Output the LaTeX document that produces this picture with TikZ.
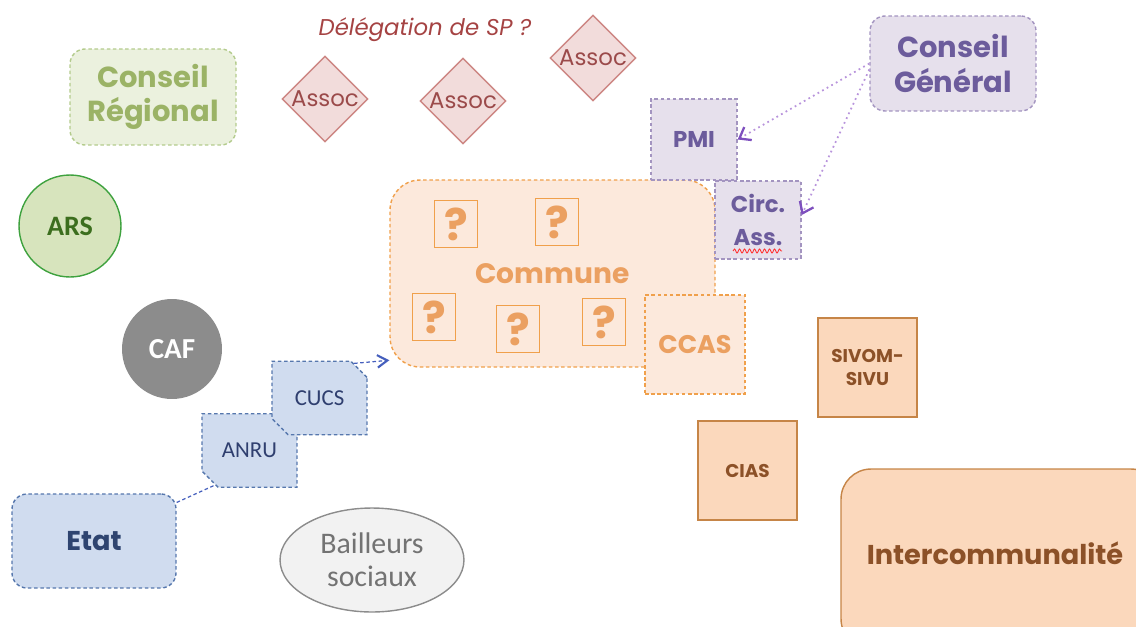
\documentclass[tikz,border=0pt]{standalone}
\usepackage{fontspec}
\setmainfont{Poppins}
\newfontfamily\calfont{Carlito}
\usepackage{tikz}
\usetikzlibrary{arrows.meta, positioning, shapes.geometric, shapes.misc, decorations.pathmorphing}

\definecolor{regfill}{HTML}{EBF1DE}
\definecolor{regdraw}{HTML}{B3CB8C}
\definecolor{regtext}{HTML}{9BB366}
\definecolor{assocfill}{HTML}{F2DCDB}
\definecolor{assocdraw}{HTML}{CD8683}
\definecolor{assoctext}{HTML}{9B4A4A}
\definecolor{cgfill}{HTML}{E6E0EC}
\definecolor{cgdraw}{HTML}{A394C0}
\definecolor{cgtext}{HTML}{6C5C9C}
\definecolor{cgline}{HTML}{B894DC}
\definecolor{cgtip}{HTML}{7E4FBE}
\definecolor{arsfill}{HTML}{D7E4BD}
\definecolor{arsdraw}{HTML}{3FA23F}
\definecolor{arstext}{HTML}{3C6E1E}
\definecolor{caffill}{HTML}{8C8C8C}
\definecolor{comfill}{HTML}{FCE9DC}
\definecolor{comdraw}{HTML}{F0A04B}
\definecolor{comtext}{HTML}{EBA061}
\definecolor{sivfill}{HTML}{FBD8BC}
\definecolor{sivdraw}{HTML}{C68547}
\definecolor{sivtext}{HTML}{8C5128}
\definecolor{etatfill}{HTML}{D0DCEF}
\definecolor{etatdraw}{HTML}{5677AD}
\definecolor{etattext}{HTML}{2E4470}
\definecolor{ctext}{HTML}{2F3F6F}
\definecolor{bailfill}{HTML}{F2F2F2}
\definecolor{baildraw}{HTML}{8C8C8C}
\definecolor{bailtext}{HTML}{737373}

\begin{document}
\begin{tikzpicture}[x=0.02cm, y=-0.02cm, line width=0.8pt,
			dashline/.style={dash pattern=on 2pt off 1.5pt},
			region/.style={draw=regdraw, fill=regfill, dashline, rounded corners=0.3cm, text=regtext, align=center, font=\fontsize{16.5}{19.5}\selectfont\bfseries},
			assoc/.style={draw=assocdraw, fill=assocfill, diamond, aspect=1, inner sep=0pt, minimum size=1.72cm, text=assoctext, font=\fontsize{13}{15}\selectfont},
			cg/.style={draw=cgdraw, fill=cgfill, dashline, text=cgtext, align=center, font=\fontsize{13}{18.5}\selectfont\bfseries},
			commbox/.style={draw=comdraw, fill=comfill, dashline, text=comtext, font=\fontsize{16}{18}\selectfont\bfseries},
			quest/.style={draw=comdraw, minimum width=0.86cm, minimum height=0.94cm, inner sep=0pt, text=comtext, font=\fontsize{25}{27}\selectfont\bfseries},
			inter/.style={draw=sivdraw, fill=sivfill, text=sivtext, align=center, font=\fontsize{10.5}{13.5}\selectfont\bfseries},
			etat/.style={draw=etatdraw, fill=etatfill, dashline, text=ctext, font=\calfont\fontsize{13}{15}\selectfont},
			snipbox/.style={etat, chamfered rectangle, chamfered rectangle corners={north east, south west}, chamfered rectangle xsep=0.16cm, chamfered rectangle ysep=0.16cm, minimum width=1.9cm, minimum height=1.47cm}]
			
			\clip (0,0) rectangle (1136,626);
			
			% Drawing the regional and local bodies
			\node[region, minimum width=3.32cm, minimum height=1.92cm] (reg) at (153,97) {Conseil\\R\'egional};
			\node[font=\fontsize{13}{15}\selectfont\itshape, text=assoctext!90!red] (deleg) at (425,30) {D\'el\'egation de SP ?};
			\node[assoc] (assoc1) at (325,99) {Assoc};
			\node[assoc] (assoc2) at (463,101) {Assoc};
			\node[assoc] (assoc3) at (593,58) {Assoc};
			\node[cg, rounded corners=0.3cm, minimum width=3.32cm, minimum height=1.9cm, font=\fontsize{16.5}{20}\selectfont\bfseries] (cg) at (953,63.5) {Conseil\\G\'en\'eral};
			
			% Drawing the health and family bodies
			\node[circle, draw=arsdraw, fill=arsfill, minimum size=2.04cm, text=arstext, font=\calfont\fontsize{16}{18}\selectfont\bfseries] (ars) at (70,226) {ARS};
			\node[circle, fill=caffill, minimum size=2cm, text=white, font=\calfont\fontsize{16.5}{18}\selectfont\bfseries] (caf) at (172,349) {CAF};
			
			% Drawing the commune
			\node[commbox, rounded corners=0.6cm, minimum width=6.5cm, minimum height=3.74cm] (commune) at (552.5,273.5) {Commune};
			\node[quest] (q1) at (456,224) {?};
			\node[quest] (q2) at (557,222) {?};
			\node[quest] (q3) at (434,317) {?};
			\node[quest] (q4) at (518,329) {?};
			\node[quest] (q5) at (604,322) {?};
			\node[cg, minimum width=1.72cm, minimum height=1.62cm] (pmi) at (694,139.5) {PMI};
			\node[cg, minimum width=1.72cm, minimum height=1.56cm] (circ) at (758,220) {Circ.\\Ass.};
			\draw[red!80, line width=0.5pt, decorate, decoration={snake, amplitude=0.4mm, segment length=1mm}] (733,251) -- (782,251);
			\node[commbox, minimum width=2cm, minimum height=1.98cm, font=\fontsize{14.5}{16}\selectfont\bfseries] (ccas) at (695,344.5) {CCAS};
			
			% Drawing the intercommunal bodies
			\node[inter, minimum size=1.98cm] (sivom) at (867.5,367.5) {SIVOM-\\SIVU};
			\node[inter, minimum size=1.98cm] (cias) at (747.5,470.5) {CIAS};
			\node[inter, rounded corners=0.6cm, minimum width=6.4cm, minimum height=3.6cm, font=\fontsize{15.5}{17}\selectfont\bfseries] (interco) at (1001,559) {};
			\node[text=sivtext, font=\fontsize{15.5}{17}\selectfont\bfseries] (intertext) at (995,553) {Intercommunalit\'e};
			
			% Drawing the state bodies
			\node[etat, rounded corners=0.3cm, minimum width=3.28cm, minimum height=1.88cm, text=etattext, font=\fontsize{15.5}{17}\selectfont\bfseries] (etat) at (94,541) {Etat};
			\node[snipbox] (anru) at (249.5,450.5) {ANRU};
			\node[snipbox] (cucs) at (319.5,398) {CUCS};
			\node[ellipse, draw=baildraw, fill=bailfill, minimum width=3.68cm, minimum height=2.08cm, text=bailtext, align=center, font=\calfont\fontsize{17}{19}\selectfont] (bail) at (372,560) {Bailleurs\\sociaux};
			
			% Connecting the bodies
			\draw[etatdraw!80!blue, dashline, line width=0.7pt] (etat.25) -- (anru.225);
			\draw[etatdraw!80!blue, dashline, line width=0.7pt, -{Straight Barb[length=2mm, width=2.5mm, line width=1.2pt]}] (cucs.45) -- (commune.208);
			\draw[cgline, dotted, line width=1pt, -{Straight Barb[length=2mm, width=3mm, line width=1.3pt, color=cgtip]}] (cg.west) -- (pmi.east);
			\draw[cgline, dotted, line width=1pt, -{Straight Barb[length=2mm, width=3mm, line width=1.3pt, color=cgtip]}] ([yshift=-0.12cm]cg.west) -- ([yshift=0.1cm]circ.east);
		\end{tikzpicture}
\end{document}
